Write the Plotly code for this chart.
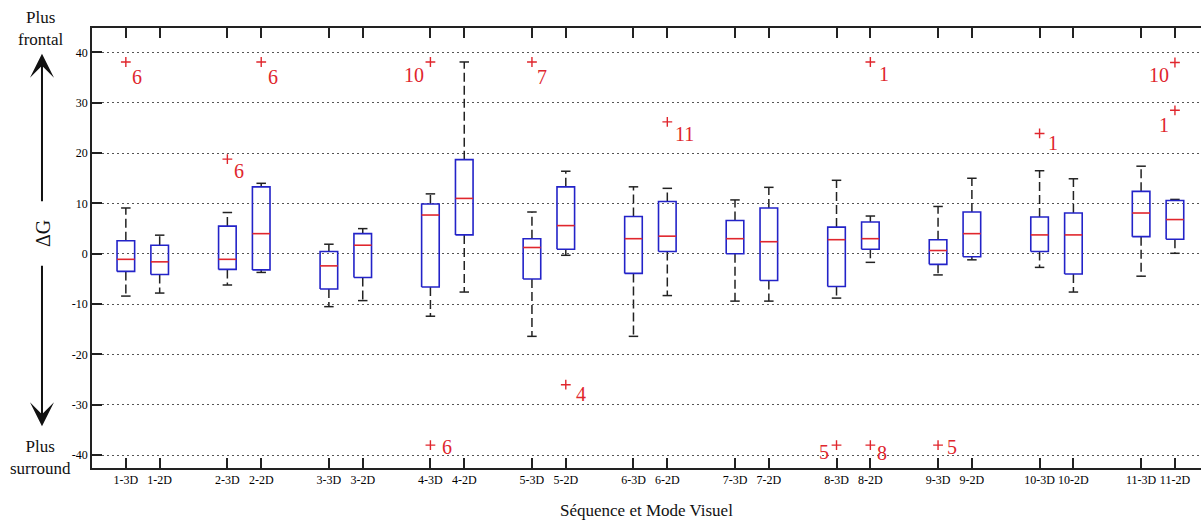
import plotly.graph_objects as go

# ---------------- data ----------------
categories = ["1-3D", "1-2D", "2-3D", "2-2D", "3-3D", "3-2D", "4-3D", "4-2D",
              "5-3D", "5-2D", "6-3D", "6-2D", "7-3D", "7-2D", "8-3D", "8-2D",
              "9-3D", "9-2D", "10-3D", "10-2D", "11-3D", "11-2D"]
whisker_low = [-8.4, -7.8, -6.2, -3.7, -10.5, -9.3, -12.4, -7.6, -16.4, -0.3, -16.4,
               -8.3, -9.4, -9.4, -8.8, -1.7, -4.2, -1.2, -2.7, -7.6, -4.45, 0.1]
q1 = [-3.5, -4.1, -3.1, -3.2, -7.0, -4.7, -6.6, 3.75, -5.0, 0.9, -3.9,
      0.45, 0.0, -5.3, -6.5, 0.9, -2.1, -0.6, 0.45, -4.0, 3.4, 2.9]
median = [-1.1, -1.6, -1.1, 4.0, -2.4, 1.7, 7.7, 11.0, 1.25, 5.6, 3.0,
          3.5, 3.0, 2.4, 2.8, 3.0, 0.65, 4.0, 3.75, 3.75, 8.1, 6.8]
q3 = [2.6, 1.7, 5.5, 13.3, 0.45, 4.0, 9.9, 18.7, 3.0, 13.3, 7.4,
      10.4, 6.6, 9.1, 5.3, 6.3, 2.8, 8.3, 7.3, 8.1, 12.4, 10.6]
whisker_high = [9.1, 3.7, 8.2, 14.0, 1.9, 5.0, 11.9, 38.1, 8.3, 16.4, 13.3,
                13.0, 10.7, 13.2, 14.6, 7.5, 9.4, 15.0, 16.5, 14.9, 17.4, 10.8]

outlier_category = ["1-3D", "2-3D", "2-2D", "4-3D", "4-3D", "5-3D", "5-2D", "6-2D",
                    "8-3D", "8-2D", "8-2D", "9-3D", "10-3D", "11-2D", "11-2D"]
outlier_value = [38.1, 18.8, 38.1, 38.1, -38.0, 38.1, -26.0, 26.2,
                 -38.0, 38.1, -38.0, -38.0, 23.9, 38.0, 28.5]
outlier_label = ["6", "6", "6", "10", "6", "7", "4", "11",
                 "5", "1", "8", "5", "1", "10", "1"]

y_ticks = [40, 30, 20, 10, 0, -10, -20, -30, -40]

# ---------------- styling ----------------
label_offsets = [(11, -15), (12, -12), (12, -15), (-16, -13), (17, -2), (10, -15),
                 (15, -9), (17, -12), (-13, -7), (14, -12), (12, -8), (14, -2),
                 (13, -10), (-16, -13), (-11, -15)]

BLUE = "#2323c8"
RED = "#e0262d"
SERIF = "Liberation Serif, Times New Roman, serif"

# numeric positions of categories: pairs with a gap between sequences
pos = {}
for i, c in enumerate(categories):
    pos[c] = (i // 2) * 3 + (i % 2)

half_box = 0.26
half_cap = 0.14

bx, by, mx, my, wx, wy, cx, cy = [], [], [], [], [], [], [], []
for i, c in enumerate(categories):
    p = pos[c]
    bx += [p - half_box, p + half_box, p + half_box, p - half_box, p - half_box, None]
    by += [q1[i], q1[i], q3[i], q3[i], q1[i], None]
    mx += [p - half_box, p + half_box, None]
    my += [median[i], median[i], None]
    wx += [p, p, None, p, p, None]
    wy += [q3[i], whisker_high[i], None, q1[i], whisker_low[i], None]
    cx += [p - half_cap, p + half_cap, None, p - half_cap, p + half_cap, None]
    cy += [whisker_high[i], whisker_high[i], None, whisker_low[i], whisker_low[i], None]

fig = go.Figure()
fig.add_trace(go.Scatter(x=wx, y=wy, mode="lines", hoverinfo="skip",
                         line=dict(color="#222", width=1.5, dash="9px,4px")))
fig.add_trace(go.Scatter(x=cx, y=cy, mode="lines", hoverinfo="skip",
                         line=dict(color="#222", width=1.5)))
fig.add_trace(go.Scatter(x=bx, y=by, mode="lines", hoverinfo="skip",
                         line=dict(color=BLUE, width=1.6)))
fig.add_trace(go.Scatter(x=mx, y=my, mode="lines", hoverinfo="skip",
                         line=dict(color=RED, width=1.6)))
fig.add_trace(go.Scatter(x=[pos[c] for c in outlier_category], y=outlier_value,
                         mode="markers", hoverinfo="skip",
                         marker=dict(symbol="cross-thin", size=7,
                                     line=dict(color=RED, width=1.4))))

for c, v, lab, (dx, dy) in zip(outlier_category, outlier_value, outlier_label, label_offsets):
    fig.add_annotation(x=pos[c], y=v, xref="x", yref="y", text=lab, showarrow=False,
                       xshift=dx, yshift=dy, font=dict(family=SERIF, size=20, color=RED))

fig.update_xaxes(range=[-1.0, 31.77], tickvals=[pos[c] for c in categories],
                 ticktext=categories, ticks="inside", ticklen=10, tickwidth=1.5,
                 tickcolor="#222", showline=True, linecolor="#222", linewidth=1.5,
                 mirror="ticks", showgrid=False, zeroline=False,
                 tickfont=dict(family=SERIF, size=12, color="#000"))
fig.update_yaxes(range=[-42.55, 44.85], tickvals=y_ticks, ticktext=[str(t) for t in y_ticks],
                 ticks="inside", ticklen=10, tickwidth=1.5, tickcolor="#222",
                 showline=True, linecolor="#222", linewidth=1.5, zeroline=False,
                 showgrid=True, gridcolor="#555", gridwidth=1, griddash="2px,3px",
                 tickfont=dict(family=SERIF, size=12, color="#000"))

# axis title and left-side annotations
fig.add_annotation(xref="paper", yref="paper", x=0.5, y=-0.096, text="Séquence et Mode Visuel",
                   showarrow=False, yanchor="middle",
                   font=dict(family=SERIF, size=17, color="#111"))
fig.add_annotation(xref="paper", yref="paper", x=-0.046, y=1.0, text="Plus<br>frontal",
                   showarrow=False, yanchor="middle", xanchor="center",
                   font=dict(family=SERIF, size=17, color="#111"))
fig.add_annotation(xref="paper", yref="paper", x=-0.046, y=0.024, text="Plus<br>surround",
                   showarrow=False, yanchor="middle", xanchor="center",
                   font=dict(family=SERIF, size=17, color="#111"))
fig.add_annotation(xref="paper", yref="paper", x=-0.044, y=0.532, text="ΔG",
                   showarrow=False, textangle=-90, yanchor="middle", xanchor="center",
                   font=dict(family=SERIF, size=20, color="#111"))
fig.add_annotation(xref="paper", yref="paper", x=-0.0451, y=0.9415, text="",
                   showarrow=True, ax=0, ay=149, arrowhead=3, arrowsize=2,
                   arrowwidth=2, arrowcolor="#111")
fig.add_annotation(xref="paper", yref="paper", x=-0.0451, y=0.0949, text="",
                   showarrow=True, ax=0, ay=-162, arrowhead=3, arrowsize=2,
                   arrowwidth=2, arrowcolor="#111")

fig.update_layout(width=1201, height=524, showlegend=False,
                  margin=dict(l=92, r=0, t=28, b=56),
                  paper_bgcolor="white", plot_bgcolor="white")

fig.write_html("out.html", config={"displayModeBar": False},
               post_script="document.body.style.margin='0';document.body.style.overflow='hidden';")
